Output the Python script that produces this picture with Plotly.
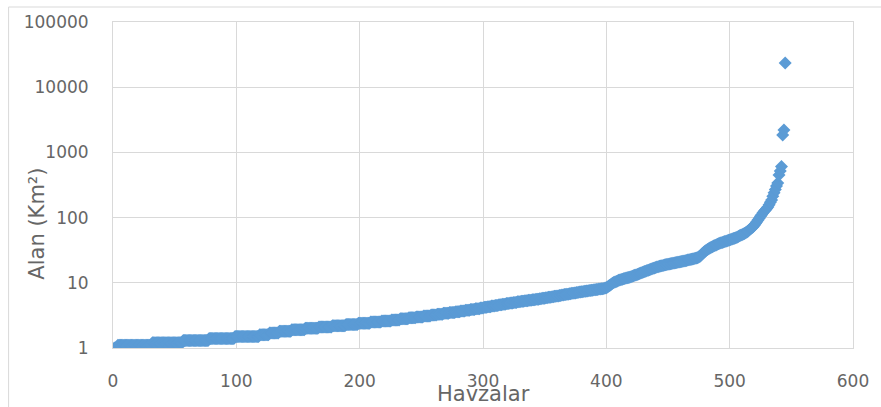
import plotly.graph_objects as go

# Basin areas (km²), sorted ascending, one value per basin
alan_km2 = [
    1.0, 1.0, 1.0,
    1.1, 1.1, 1.1, 1.1, 1.1, 1.1, 1.1, 1.1, 1.1, 1.1, 1.1, 1.1, 1.1, 1.1,
    1.1, 1.1, 1.1, 1.1, 1.1, 1.1, 1.1, 1.1, 1.1, 1.1, 1.1, 1.1, 1.1, 1.1,
    1.2, 1.2, 1.2, 1.2, 1.2, 1.2, 1.2, 1.2, 1.2, 1.2, 1.2, 1.2, 1.2,
    1.2, 1.2, 1.2, 1.2, 1.2, 1.2, 1.2, 1.2, 1.2, 1.2, 1.2, 1.2,
    1.3, 1.3, 1.3, 1.3, 1.3, 1.3, 1.3, 1.3, 1.3, 1.3, 1.3,
    1.3, 1.3, 1.3, 1.3, 1.3, 1.3, 1.3, 1.3, 1.3, 1.3,
    1.4, 1.4, 1.4, 1.4, 1.4, 1.4, 1.4, 1.4, 1.4, 1.4, 1.4,
    1.4, 1.4, 1.4, 1.4, 1.4, 1.4, 1.4, 1.4, 1.4, 1.4,
    1.5, 1.5, 1.5, 1.5, 1.5, 1.5, 1.5, 1.5, 1.5, 1.5,
    1.5, 1.5, 1.5, 1.5, 1.5, 1.5, 1.5, 1.5, 1.5, 1.5,
    1.6, 1.6, 1.6, 1.6, 1.6, 1.6, 1.6, 1.6,
    1.7, 1.7, 1.7, 1.7, 1.7, 1.7, 1.7, 1.7,
    1.8, 1.8, 1.8, 1.8, 1.8, 1.8, 1.8, 1.8, 1.8, 1.8,
    1.9, 1.9, 1.9, 1.9, 1.9, 1.9, 1.9, 1.9, 1.9, 1.9, 1.9,
    2.0, 2.0, 2.0, 2.0, 2.0, 2.0, 2.0, 2.0, 2.0, 2.0, 2.0,
    2.1, 2.1, 2.1, 2.1, 2.1, 2.1, 2.1, 2.1, 2.1, 2.1, 2.1,
    2.2, 2.2, 2.2, 2.2, 2.2, 2.2, 2.2, 2.2, 2.2, 2.2, 2.2,
    2.3, 2.3, 2.3, 2.3, 2.3, 2.3, 2.3, 2.3, 2.3, 2.3,
    2.4, 2.4, 2.4, 2.4, 2.4, 2.4, 2.4, 2.4, 2.4, 2.4,
    2.5, 2.5, 2.5, 2.5, 2.5, 2.5, 2.5, 2.5, 2.5,
    2.6, 2.6, 2.6, 2.6, 2.6, 2.6, 2.6, 2.6,
    2.7, 2.7, 2.7, 2.7, 2.7, 2.7, 2.7,
    2.8, 2.8, 2.8, 2.8, 2.8, 2.8, 2.8,
    2.9, 2.9, 2.9, 2.9, 2.9, 2.9,
    3.0, 3.0, 3.0, 3.0, 3.0, 3.0,
    3.1, 3.1, 3.1, 3.1, 3.1, 3.1,
    3.2, 3.2, 3.2, 3.2, 3.2,
    3.3, 3.3, 3.3, 3.3, 3.3,
    3.4, 3.4, 3.4, 3.4, 3.4,
    3.5, 3.5, 3.5, 3.5, 3.5,
    3.6, 3.6, 3.6, 3.6,
    3.7, 3.7, 3.7, 3.7,
    3.8, 3.8, 3.8, 3.8,
    3.9, 3.9, 3.9, 3.9,
    4.0, 4.0, 4.0, 4.0,
    4.1, 4.1, 4.1, 4.2, 4.2, 4.2, 4.3, 4.3, 4.3, 4.4, 4.4, 4.4,
    4.5, 4.5, 4.5, 4.6, 4.6, 4.6, 4.7, 4.7, 4.7, 4.8, 4.8, 4.8,
    4.9, 4.9, 4.9, 5.0, 5.0, 5.0, 5.1, 5.1, 5.1,
    5.2, 5.2, 5.2, 5.3, 5.3, 5.3, 5.4, 5.4, 5.4, 5.5, 5.5, 5.5,
    5.6, 5.6, 5.6, 5.7, 5.7, 5.8, 5.8, 5.8, 5.9, 5.9, 6.0, 6.0, 6.0,
    6.1, 6.1, 6.2, 6.2, 6.3, 6.3, 6.4, 6.4, 6.5, 6.5, 6.6, 6.6,
    6.7, 6.7, 6.8, 6.8, 6.9, 6.9, 7.0, 7.0, 7.1, 7.1, 7.2, 7.2,
    7.3, 7.3, 7.4, 7.4, 7.5, 7.5, 7.6, 7.6, 7.7, 7.7, 7.8, 7.8,
    7.9, 7.9, 8.0, 8.0, 8.1, 8.1, 8.2, 8.3, 8.4,
    8.6, 8.9, 9.2, 9.5, 9.8, 10.1, 10.3, 10.5, 10.7, 10.9,
    11.0, 11.2, 11.3, 11.5, 11.6, 11.8, 11.9, 12.1, 12.2, 12.4,
    12.6, 12.8, 13.0, 13.2, 13.4, 13.7, 13.9, 14.1, 14.4, 14.6,
    14.9, 15.1, 15.4, 15.6, 15.9, 16.1, 16.4, 16.7, 16.9, 17.2,
    17.4, 17.7, 17.9, 18.1, 18.3, 18.5, 18.7,
    18.9, 19.1, 19.2, 19.4, 19.6, 19.8, 20.0, 20.2, 20.3, 20.5,
    20.7, 20.9, 21.1, 21.3, 21.5, 21.6, 21.8, 22.0, 22.3, 22.5,
    22.7, 22.9, 23.2, 23.4, 23.7, 24.0,
    24.3, 24.8, 25.5, 26.8, 28.2, 29.5, 30.6, 31.5, 32.4, 33.3,
    34.1, 35.0, 35.8, 36.6, 37.3, 38.1, 39.0,
    39.6, 40.3, 41.0, 41.6, 42.2, 42.9, 43.5, 44.1, 44.8, 45.4,
    46.1, 46.8, 47.6, 48.4, 49.2, 50.0,
    51.2, 52.5, 53.6, 54.8, 56.0, 57.2, 58.5, 60.0,
    62.5, 65.0, 67.4, 69.8, 72.3,
    76.5, 81.0, 86.2, 92.0,
    98.1, 104.5, 111.0, 118.2,
    124.6, 131.0, 138.3, 145.5,
    158.0, 171.4, 186.2,
    212.0, 240.5,
    270.3, 305.8, 338.0,
    452.0, 520.0, 610.0,
    1850.0, 2210.0, 23480.0,
]

# Basin numbers (1..N) along the x axis
havza_no = list(range(1, len(alan_km2) + 1))

x_ticks = [0, 100, 200, 300, 400, 500, 600]
y_ticks = [1, 10, 100, 1000, 10000, 100000]
y_tick_labels = ["1", "10", "100", "1000", "10000", "100000"]

grid_col = "#d9d9d9"
text_col = "#666666"
tick_font = dict(family="DejaVu Sans", size=17, color=text_col)
title_font = dict(family="DejaVu Sans", size=21, color=text_col)

fig = go.Figure(
    go.Scatter(
        x=havza_no,
        y=alan_km2,
        mode="markers",
        marker=dict(symbol="diamond", size=10, color="#5B9BD5", line=dict(width=0)),
        hoverinfo="x+y",
    )
)

fig.update_layout(
    width=881,
    height=407,
    margin=dict(l=113, r=24, t=22, b=59),
    paper_bgcolor="white",
    plot_bgcolor="white",
    showlegend=False,
    xaxis=dict(
        range=[0, 600],
        tickmode="array",
        tickvals=x_ticks,
        showgrid=True,
        gridcolor=grid_col,
        gridwidth=1,
        zeroline=False,
        showline=True,
        linecolor=grid_col,
        linewidth=1,
        mirror=True,
        ticks="",
        tickfont=tick_font,
        ticklabelstandoff=18,
    ),
    yaxis=dict(
        type="log",
        range=[0, 5],
        tickmode="array",
        tickvals=y_ticks,
        ticktext=y_tick_labels,
        showgrid=True,
        gridcolor=grid_col,
        gridwidth=1,
        zeroline=False,
        showline=True,
        linecolor=grid_col,
        linewidth=1,
        mirror=True,
        ticks="",
        tickfont=tick_font,
        ticklabelstandoff=20,
    ),
    annotations=[
        dict(
            text="Havzalar",
            xref="paper", yref="paper",
            x=0.5, y=-0.14,
            xanchor="center", yanchor="middle",
            showarrow=False,
            font=title_font,
        ),
        dict(
            text="Alan (Km²)",
            xref="paper", yref="paper",
            x=-0.102, y=0.38,
            xanchor="center", yanchor="middle",
            textangle=-90,
            showarrow=False,
            font=title_font,
        ),
    ],
    shapes=[
        # thin frame around the whole chart area
        dict(
            type="rect",
            xref="paper", yref="paper",
            x0=-0.1411, x1=1.2, y0=-0.4, y1=1.046,
            line=dict(color=grid_col, width=1),
            fillcolor="rgba(0,0,0,0)",
            layer="below",
        )
    ],
)

fig.write_html("out.html")
